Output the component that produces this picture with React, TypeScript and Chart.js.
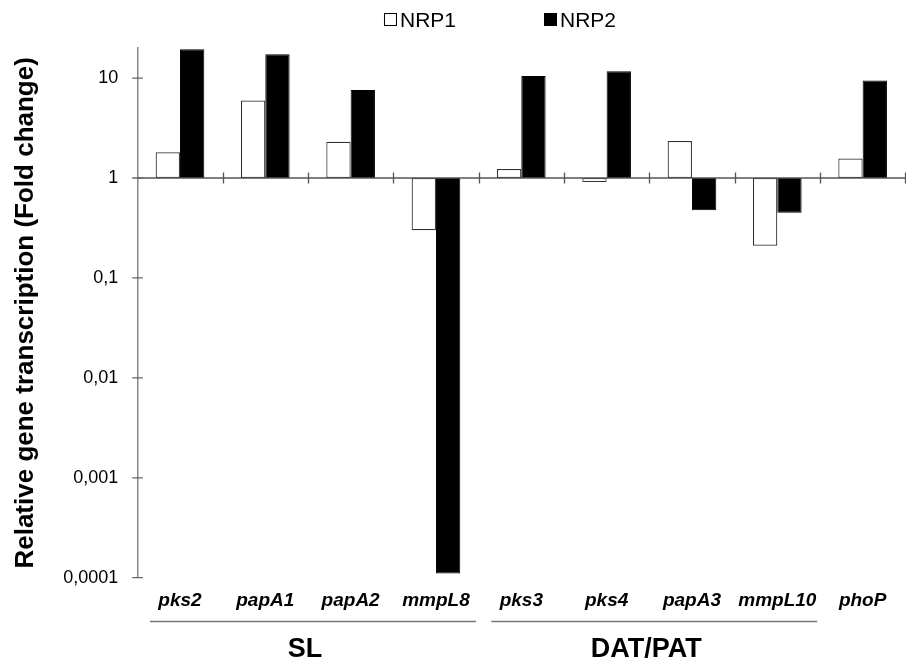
import React, { useEffect, useRef } from "react";
import { Chart, registerables } from "chart.js";

Chart.register(...registerables);

const categories = ["pks2", "papA1", "papA2", "mmpL8", "pks3", "pks4", "papA3", "mmpL10", "phoP"];
const seriesNames = ["NRP1", "NRP2"];
const nrp1 = [1.81, 5.96, 2.3, 0.3, 1.23, 0.91, 2.35, 0.21, 1.57];
const nrp2 = [19.4, 17.3, 7.6, 0.00011, 10.5, 11.7, 0.477, 0.449, 9.46];
const yTickValues = [0.0001, 0.001, 0.01, 0.1, 1, 10];
const yTickLabels = ["0,0001", "0,001", "0,01", "0,1", "1", "10"];
const groupNames = ["SL", "DAT/PAT"];
const groupStart = [0, 4];
const groupEnd = [3, 7];
const baseValue = 1;
const yMin = 0.0001;
const yMax = 20;

const FONT = "'Liberation Sans', Arial, sans-serif";

const decorPlugin = {
  id: "decor",
  afterDatasetsDraw(chart: any) {
    const { ctx, chartArea: a, scales } = chart;
    const xs = scales.x;
    const ys = scales.y;
    const yBase = ys.getPixelForValue(baseValue);
    const half = (xs.getPixelForValue(1) - xs.getPixelForValue(0)) / 2;
    ctx.save();
    ctx.strokeStyle = "#555";
    ctx.lineWidth = 1.3;
    ctx.beginPath();
    ctx.moveTo(a.left, yBase);
    ctx.lineTo(a.right, yBase);
    ctx.stroke();
    ctx.beginPath();
    for (let i = 0; i < categories.length; i++) {
      const px = Math.round(xs.getPixelForValue(i) + half) + 0.5;
      ctx.moveTo(px, yBase - 5.5);
      ctx.lineTo(px, yBase + 5.5);
    }
    ctx.stroke();
    ctx.strokeStyle = "#666";
    ctx.beginPath();
    for (const v of yTickValues) {
      const py = ys.getPixelForValue(v);
      ctx.moveTo(a.left - 5, py);
      ctx.lineTo(a.left + 5.5, py);
    }
    ctx.stroke();
    ctx.restore();
  },
  afterDraw(chart: any) {
    const { ctx, scales } = chart;
    const xs = scales.x;
    ctx.save();
    const lineY = 621.5;
    ctx.strokeStyle = "#777";
    ctx.lineWidth = 1.5;
    ctx.fillStyle = "#000";
    ctx.font = `bold 27px ${FONT}`;
    ctx.textAlign = "center";
    ctx.textBaseline = "alphabetic";
    for (let g = 0; g < groupNames.length; g++) {
      const x0 = xs.getPixelForValue(groupStart[g]) - 30;
      const x1 = xs.getPixelForValue(groupEnd[g]) + 40;
      ctx.beginPath();
      ctx.moveTo(x0, lineY);
      ctx.lineTo(x1, lineY);
      ctx.stroke();
      const cx = (xs.getPixelForValue(groupStart[g]) + xs.getPixelForValue(groupEnd[g])) / 2 - 3;
      ctx.fillText(groupNames[g], cx, 657);
    }
    ctx.font = `21px ${FONT}`;
    ctx.textAlign = "left";
    const box = 13;
    const gap = 3;
    const itemGap = 88;
    const widths = chart.data.datasets.map((d: any) => box + gap + ctx.measureText(d.label).width);
    const total = widths.reduce((s: number, w: number) => s + w, 0) + itemGap * (widths.length - 1);
    let lx = 500 - total / 2;
    chart.data.datasets.forEach((d: any, i: number) => {
      ctx.fillStyle = d.backgroundColor;
      ctx.fillRect(lx, 13, box, box);
      ctx.strokeStyle = "#000";
      ctx.lineWidth = 1;
      ctx.strokeRect(lx + 0.5, 13.5, box - 1, box - 1);
      ctx.fillStyle = "#000";
      ctx.fillText(d.label, lx + box + gap, 26.5);
      lx += widths[i] + itemGap;
    });
    ctx.restore();
  },
};

export default function App() {
  const ref = useRef<HTMLCanvasElement | null>(null);
  useEffect(() => {
    if (!ref.current) return;
    Chart.defaults.font.family = FONT;
    const chart = new Chart(ref.current, {
      type: "bar",
      data: {
        labels: categories,
        datasets: [
          {
            label: seriesNames[0],
            data: nrp1.map((v) => [baseValue, v]) as any,
            backgroundColor: "#ffffff",
            borderColor: "#333333",
            borderWidth: 1.2,
            borderSkipped: false,
          },
          {
            label: seriesNames[1],
            data: nrp2.map((v) => [baseValue, v]) as any,
            backgroundColor: "#000000",
            borderColor: "#000000",
            borderWidth: 1,
            borderSkipped: false,
          },
        ],
      },
      options: {
        responsive: false,
        animation: false,
        devicePixelRatio: 1,
        categoryPercentage: 0.57,
        barPercentage: 1,
        layout: { padding: { left: 0, top: 48, right: 0.7, bottom: 0 } },
        plugins: {
          legend: { display: false },
          tooltip: { enabled: false },
        },
        scales: {
          x: {
            type: "category",
            position: "bottom",
            grid: { display: false, drawTicks: false },
            border: { display: false },
            ticks: {
              color: "#000",
              padding: 12,
              font: { family: FONT, size: 19, weight: "bold", style: "italic" },
              maxRotation: 0,
              autoSkip: false,
            },
            afterFit(scale: any) {
              scale.height = 663 - 577.7;
            },
          },
          y: {
            type: "logarithmic",
            min: yMin,
            max: yMax,
            grid: { display: false, drawTicks: false },
            border: { display: true, color: "#888", width: 1.5 },
            ticks: {
              color: "#000",
              padding: 19,
              font: { family: FONT, size: 18 },
              autoSkip: false,
              callback: (_v: any, i: number) => yTickLabels[i],
            },
            afterBuildTicks(scale: any) {
              scale.ticks = yTickValues.map((v) => ({ value: v }));
            },
            afterFit(scale: any) {
              scale.width = 137.3;
            },
            title: {
              display: true,
              text: "Relative gene transcription (Fold change)",
              color: "#000",
              font: { family: FONT, size: 26, weight: "bold" },
              padding: { top: 10, bottom: 0 },
            },
          },
        },
      },
      plugins: [decorPlugin],
    });
    return () => chart.destroy();
  }, []);
  return (
    <div style={{ position: "absolute", left: 0, top: 0, width: 906, height: 663, background: "#fff" }}>
      <canvas ref={ref} width={906} height={663} style={{ display: "block" }} />
    </div>
  );
}
